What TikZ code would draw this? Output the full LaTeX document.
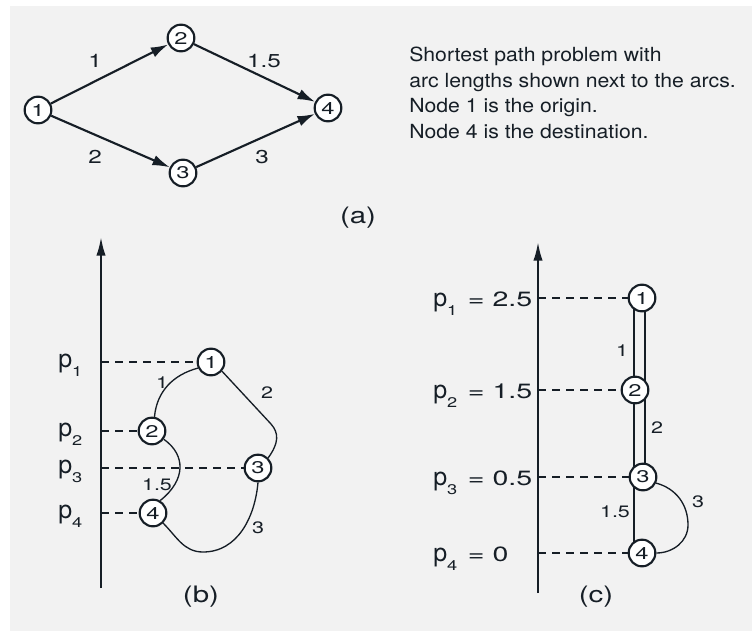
\documentclass[tikz,border=0pt]{standalone}
\usepackage{fontspec}
\setmainfont{TeX Gyre Heros}
\newfontfamily\txtfont[FakeStretch=1.09]{TeX Gyre Heros}
\newfontfamily\numfont[FakeStretch=1.3]{TeX Gyre Heros}
\newfontfamily\eqfont[FakeStretch=1.38]{TeX Gyre Heros}
\newfontfamily\nodefont[FakeStretch=1.4]{TeX Gyre Heros}
\usetikzlibrary{arrows.meta,calc}
\definecolor{ink}{RGB}{22,30,38}
\definecolor{bggrey}{RGB}{242,242,242}
\pgfdeclarelayer{back}
\pgfdeclarelayer{mid}
\pgfsetlayers{back,mid,main}
\newcommand\sbs[1]{\raisebox{-7pt}{\numfont\fontsize{10.5}{11}\selectfont #1}}
\newcommand\plab[2]{{\fontsize{18.75}{20}\selectfont p}\sbs{#1}\hspace{8pt}{\eqfont\fontsize{15.5}{15.5}\selectfont = #2}}
\begin{document}
\begin{tikzpicture}[x=0.75pt,y=0.75pt,
  vtx/.style={circle, draw=ink, fill=white, line width=1.6pt, minimum size=20pt, inner sep=0pt, font=\nodefont\fontsize{12.7}{12.7}\selectfont, text=ink},
  arc/.style={draw=ink, line width=1.6pt, -{Latex[length=13pt,width=8pt]}},
  curve/.style={draw=ink, line width=1pt},
  guide/.style={draw=ink, line width=1pt, dash pattern=on 6pt off 4.5pt},
  axis/.style={draw=ink, line width=1.6pt, -{Latex[length=14pt,width=7pt]}},
  lbla/.style={text=ink, font=\numfont\fontsize{14}{14}\selectfont, inner sep=0pt},
  lbl/.style={text=ink, font=\numfont\fontsize{12.4}{12.4}\selectfont, inner sep=0pt},
  plbl/.style={text=ink, inner sep=0pt, anchor=base west},
  note/.style={text=ink, font=\txtfont\fontsize{14.6}{19.1}\selectfont, align=left, anchor=north west, inner sep=0pt},
  captxt/.style={text=ink, font=\numfont\fontsize{17}{17}\selectfont, inner sep=0pt}]
\useasboundingbox (0,0) rectangle (752,-631);
\begin{pgfonlayer}{back}
\fill[bggrey] (10,-6) rectangle (752,-631);
\end{pgfonlayer}

% ---------- (a) ----------
\node[vtx] (a1) at (38,-110) {1};
\node[vtx] (a2) at (181,-38) {2};
\node[vtx] (a3) at (183,-173) {3};
\node[vtx] (a4) at (328,-108) {4};
\draw[arc] (a1) -- (a2);
\draw[arc] (a1) -- (a3);
\draw[arc] (a2) -- (a4);
\draw[arc] (a3) -- (a4);
\node[lbla] (la12) at (95,-61) {1};
\node[lbla] (la24) at (264,-61) {1.5};
\node[lbla] (la13) at (95,-157) {2};
\node[lbla] (la34) at (262,-157) {3};
\node[note] (txt) at (409,-47) {Shortest path problem with\\arc lengths shown next to the arcs.\\Node 1 is the origin.\\Node 4 is the destination.};
\node[captxt] (capa) at (358,-218) {(a)};

% ---------- (b) ----------
\coordinate (bax0) at (101,-588);
\coordinate (bax1) at (101,-237);
\draw[axis] (bax0) -- (bax1);
\node[vtx] (b1) at (211,-362) {1};
\node[vtx] (b2) at (152,-431) {2};
\node[vtx] (b3) at (258,-468) {3};
\node[vtx] (b4) at (153,-513) {4};
\coordinate (bp1) at (101,-362);
\coordinate (bp2) at (101,-431);
\coordinate (bp3) at (101,-468);
\coordinate (bp4) at (101,-513);
\begin{pgfonlayer}{mid}
\draw[guide] (bp1) -- (b1);
\draw[guide] (bp2) -- (b2);
\draw[guide] (bp3) -- (b3);
\draw[guide] (bp4) -- (b4);
\draw[curve] (b1.205) to[out=195,in=85] (b2.80);
\draw[curve] (b1.-40) -- (271,-424) .. controls (279,-433) and (279,-443) .. (b3.45);
\draw[curve] (b2.-35) .. controls (186,-455) and (186,-480) .. (b4.60);
\draw[curve] (b4.-45) to[out=-45,in=180] (203,-552) to[out=0,in=-95] (b3.-90);
\end{pgfonlayer}
\node[plbl] (pb1) at (58,-367) {{\fontsize{18.75}{20}\selectfont p}\sbs{1}};
\node[plbl] (pb2) at (58,-436) {{\fontsize{18.75}{20}\selectfont p}\sbs{2}};
\node[plbl] (pb3) at (58,-473) {{\fontsize{18.75}{20}\selectfont p}\sbs{3}};
\node[plbl] (pb4) at (58,-518) {{\fontsize{18.75}{20}\selectfont p}\sbs{4}};
\node[lbl] (lb12) at (162,-383) {1};
\node[lbl] (lb13) at (267,-393) {2};
\node[lbl] (lb24) at (157,-485) {1.5};
\node[lbl] (lb43) at (258,-528) {3};
\node[captxt] (capb) at (201,-597) {(b)};

% ---------- (c) ----------
\coordinate (cax0) at (538,-593);
\coordinate (cax1) at (538,-242);
\draw[axis] (cax0) -- (cax1);
\node[vtx] (c1) at (642,-298) {1};
\node[vtx] (c2) at (635,-390) {2};
\node[vtx] (c3) at (643,-477) {3};
\node[vtx] (c4) at (642,-553) {4};
\coordinate (cp1) at (538,-298);
\coordinate (cp2) at (538,-390);
\coordinate (cp3) at (538,-477);
\coordinate (cp4) at (538,-553);
\begin{pgfonlayer}{mid}
\draw[guide] (cp1) -- (c1);
\draw[guide] (cp2) -- (c2);
\draw[guide] (cp3) -- (c3);
\draw[guide] (cp4) -- (c4);
\draw[curve] ($(c1)+(-8,0)$) -- ($(c2)+(-1,0)$);
\draw[curve] ($(c1)+(3,0)$) -- ($(c3)+(2,0)$);
\draw[curve] ($(c2)+(-1,0)$) -- ($(c4)+(-8,0)$);
\draw[curve] (c3.-25) to[out=-15,in=90] (688,-525) to[out=-90,in=0] (c4.east);
\end{pgfonlayer}
\node[plbl] (pc1) at (433,-306.5) {\plab{1}{2.5}};
\node[plbl] (pc2) at (433,-398) {\plab{2}{1.5}};
\node[plbl] (pc3) at (433,-485) {\plab{3}{0.5}};
\node[plbl] (pc4) at (433,-561) {\plab{4}{0}};
\node[lbl] (lc12) at (622,-351) {1};
\node[lbl] (lc13) at (657,-428) {2};
\node[lbl] (lc34) at (698,-502) {3};
\node[lbl] (lc24) at (615,-512) {1.5};
\node[captxt] (capc) at (596,-597) {(c)};
\end{tikzpicture}
\end{document}
